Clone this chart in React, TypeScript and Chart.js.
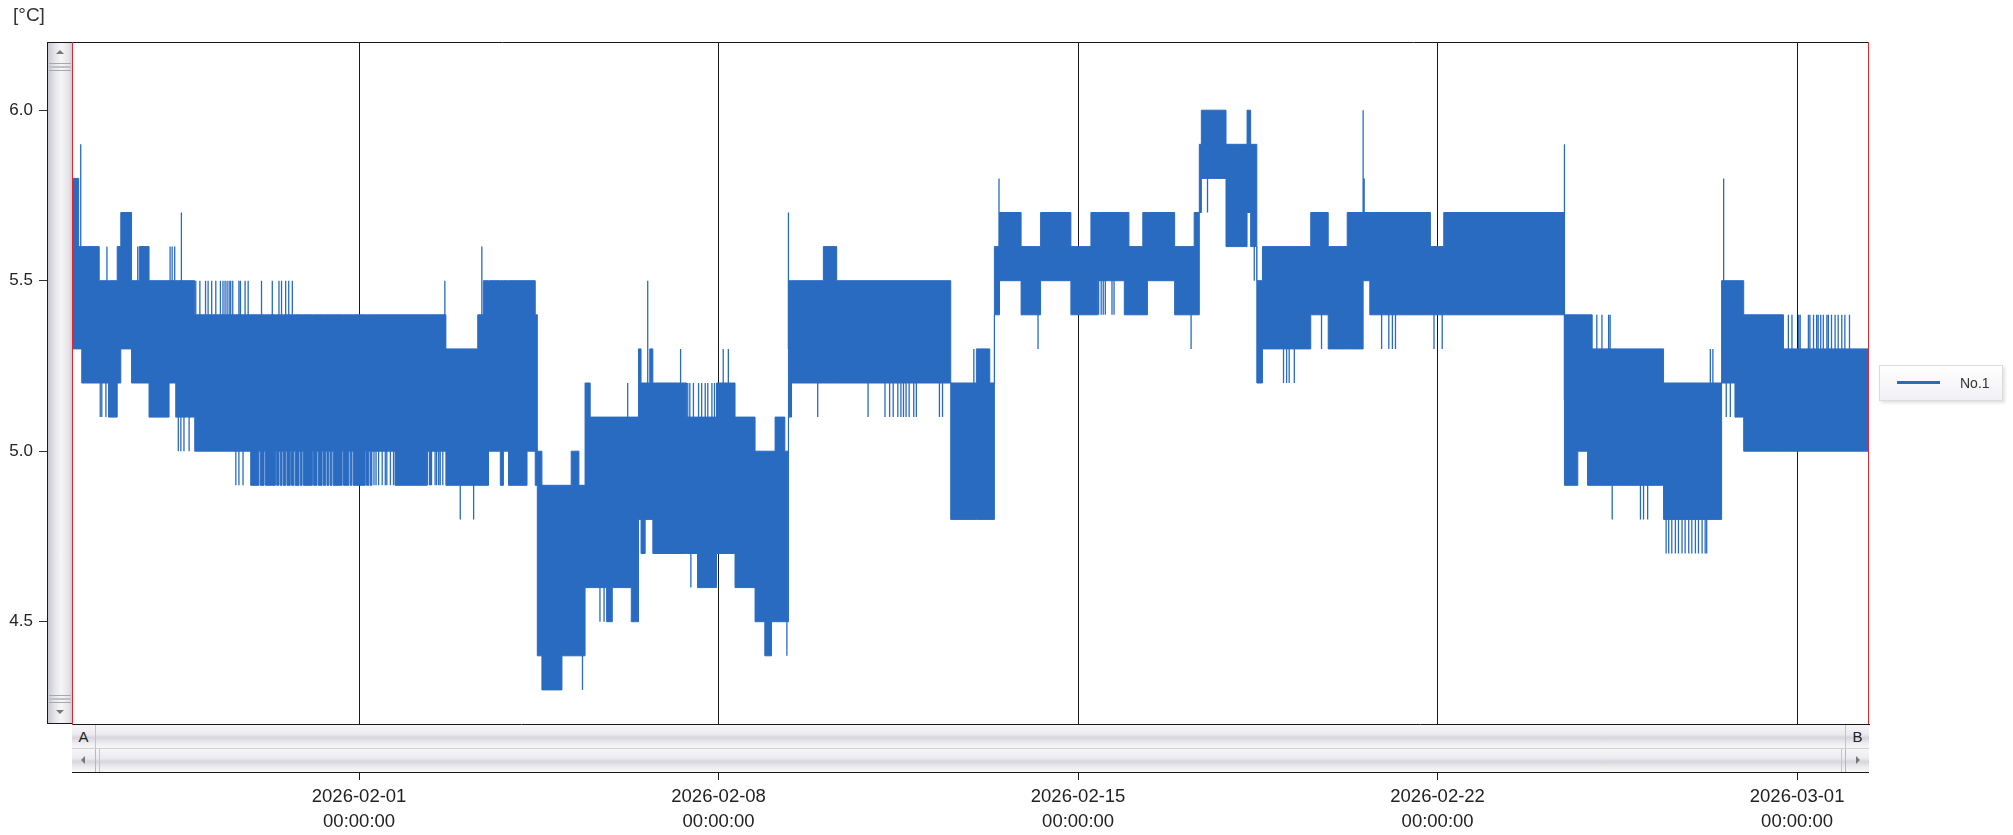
import React, { useEffect, useRef } from 'react';
import { Chart, registerables } from 'chart.js';

Chart.register(...registerables);

// x values are days counted from 2026-01-26 00:00:00
const xMin = 0.41;
const xMax = 35.4;
const seriesName = 'No.1';
const unitLabel = '[°C]';

// core band of the readings: each segment starts at segStart[i] and holds until the next one
const segStart = [0.41, 0.54, 0.60, 0.94, 1.12, 1.29, 1.36, 1.57, 1.72, 1.91, 2.30, 2.43, 2.80, 3.89,
  4.05, 4.075, 4.15, 4.175, 4.37, 4.395, 4.44, 4.465, 4.50, 4.525, 4.57, 4.595, 4.66, 4.685, 4.73, 4.755, 4.83, 4.855, 4.89, 4.915,
  5.09, 5.115, 5.18, 5.205, 5.28, 5.305, 5.35, 5.375, 5.41, 5.435, 5.47, 5.495, 5.67, 5.695, 5.80, 5.825, 5.86, 5.885, 6.12, 6.145, 6.19, 6.215,
  6.25, 6.70, 7.32,
  7.69, 8.31, 8.42, 8.52, 8.75, 8.81, 8.91, 9.27, 9.43, 9.47, 9.56, 9.95, 10.13, 10.28, 10.40, 10.50, 10.82, 10.93, 11.30, 11.44, 11.49, 11.57, 11.66, 11.72, 12.38, 12.59, 12.96, 13.32, 13.71, 13.90, 14.03, 14.10, 14.29, 14.36, 14.42, 15.04, 15.30, 17.52, 18.02, 18.28, 18.37, 18.47, 18.89, 19.27, 19.86, 20.25, 20.38, 20.90, 20.99, 21.26, 21.35, 21.88, 22.26, 22.36, 22.40, 22.88, 23.29, 23.36, 23.48, 23.59, 24.53, 24.87, 25.24, 25.55, 25.68, 26.86, 27.12, 29.47, 29.73, 29.92, 30.01, 31.40, 32.53, 32.79, 32.96, 33.73];
const segLo = [5.3, 5.3, 5.2, 5.2, 5.1, 5.2, 5.3, 5.2, 5.2, 5.1, 5.2, 5.1, 5.0, 4.9,
  5.0, 4.9, 5.0, 4.9, 5.0, 4.9, 5.0, 4.9, 5.0, 4.9, 5.0, 4.9, 5.0, 4.9, 5.0, 4.9, 5.0, 4.9, 5.0, 4.9,
  5.0, 4.9, 5.0, 4.9, 5.0, 4.9, 5.0, 4.9, 5.0, 4.9, 5.0, 4.9, 5.0, 4.9, 5.0, 4.9, 5.0, 4.9, 5.0, 4.9, 5.0, 4.9,
  5.0, 4.9, 5.0,
  4.9, 4.9, 4.9, 5.0, 4.9, 5.0, 4.9, 5.0, 4.9, 4.4, 4.3, 4.4, 4.4, 4.4, 4.6, 4.6, 4.5, 4.6, 4.5, 4.8, 4.7, 4.8, 4.8, 4.7, 4.7, 4.6, 4.7, 4.6, 4.5, 4.4, 4.5, 4.5, 4.5, 5.1, 5.2, 5.2, 5.2, 4.8, 4.8, 4.8, 5.4, 5.5, 5.4, 5.5, 5.4, 5.4, 5.5, 5.4, 5.4, 5.4, 5.5, 5.4, 5.4, 5.7, 5.8, 5.6, 5.7, 5.6, 5.2, 5.3, 5.4, 5.3, 5.3, 5.5, 5.4, 5.4, 5.4, 4.9, 5.0, 4.9, 4.9, 4.8, 5.2, 5.1, 5.0, 5.0];
const segHi = [5.8, 5.6, 5.6, 5.5, 5.5, 5.6, 5.7, 5.5, 5.6, 5.5, 5.5, 5.5, 5.4, 5.4,
  5.4, 5.4, 5.4, 5.4, 5.4, 5.4, 5.4, 5.4, 5.4, 5.4, 5.4, 5.4, 5.4, 5.4, 5.4, 5.4, 5.4, 5.4, 5.4, 5.4,
  5.4, 5.4, 5.4, 5.4, 5.4, 5.4, 5.4, 5.4, 5.4, 5.4, 5.4, 5.4, 5.4, 5.4, 5.4, 5.4, 5.4, 5.4, 5.4, 5.4, 5.4, 5.4,
  5.4, 5.4, 5.4,
  5.3, 5.4, 5.5, 5.5, 5.5, 5.5, 5.5, 5.5, 5.4, 5.0, 4.9, 4.9, 5.0, 4.9, 5.2, 5.1, 5.1, 5.1, 5.1, 5.3, 5.2, 5.2, 5.3, 5.2, 5.1, 5.1, 5.2, 5.1, 5.0, 5.0, 5.0, 5.1, 5.0, 5.5, 5.5, 5.6, 5.5, 5.2, 5.3, 5.2, 5.6, 5.7, 5.6, 5.7, 5.6, 5.7, 5.7, 5.7, 5.6, 5.7, 5.7, 5.6, 5.7, 5.9, 6.0, 5.9, 6.0, 5.9, 5.5, 5.6, 5.7, 5.6, 5.7, 5.7, 5.7, 5.6, 5.7, 5.4, 5.4, 5.4, 5.3, 5.2, 5.5, 5.5, 5.4, 5.3];

// single readings that stick out of the band
const spikeT = [0.58, 0.96, 0.99, 1.07, 1.09, 1.69, 2.32, 2.36, 2.41, 2.48, 2.53, 2.54, 2.59, 2.69,
  2.82, 2.90, 3.01, 3.06, 3.13, 3.21, 3.30, 3.35, 3.39, 3.43, 3.47, 3.50, 3.54, 3.66, 3.69, 3.78, 3.84, 4.10, 4.31, 4.44, 4.49, 4.57, 4.63, 4.70,
  3.60, 3.66, 3.74,
  6.29, 6.33, 6.38, 6.45, 6.51, 6.54, 6.61, 6.67, 7.33, 7.37, 7.39, 7.41, 7.48, 7.51, 7.55, 7.58, 7.63,
  7.67, 7.97, 8.23, 8.39, 10.35, 10.69, 10.77, 11.23, 11.62,
  12.26, 12.46, 12.40, 12.44, 12.51, 12.61, 12.67, 12.74, 12.79, 12.87, 12.92, 13.09, 13.19, 14.33, 14.36, 14.93,
  15.91, 16.24, 16.33, 16.40, 16.49, 16.55, 16.60, 16.65, 16.71, 16.80, 16.85, 17.30, 17.36,
  17.97, 18.46, 19.22, 20.40, 20.45, 20.49, 20.53, 20.66, 20.70, 22.20, 22.52, 23.43,
  24.00, 24.06, 24.11, 24.21, 24.74, 25.55, 25.57, 25.91, 26.05, 26.12, 26.18, 26.93, 27.09, 29.47,
  30.10, 30.20, 30.33, 30.36, 30.40, 30.95, 31.01, 31.09,
  31.45, 31.50, 31.56, 31.63, 31.69, 31.76, 31.82, 31.89, 31.95, 32.02, 32.08, 32.15, 32.21, 32.24,
  32.31, 32.36, 32.57, 32.62, 32.70,
  33.73, 33.83, 33.90, 34.03, 34.06, 34.22, 34.25, 34.32, 34.38, 34.41, 34.46, 34.51, 34.58, 34.61, 34.67, 34.74, 34.80, 34.87, 34.93, 35.02];
const spikeV = [5.9, 5.1, 5.1, 5.1, 5.6, 5.6, 5.6, 5.6, 5.6, 5.0, 5.0, 5.7, 5.0, 5.0,
  5.5, 5.5, 5.5, 5.5, 5.5, 5.5, 5.5, 5.5, 5.5, 5.5, 5.5, 5.5, 5.5, 5.5, 5.5, 5.5, 5.5, 5.5, 5.5, 5.5, 5.5, 5.5, 5.5, 5.5,
  4.9, 4.9, 4.9,
  4.9, 4.9, 4.9, 4.9, 4.9, 4.9, 4.9, 4.9, 4.9, 4.9, 4.9, 4.9, 4.9, 4.9, 4.9, 4.9, 4.9,
  5.5, 4.8, 4.8, 5.6, 4.3, 4.5, 4.5, 5.2, 5.5,
  5.3, 4.6, 5.2, 5.2, 5.2, 5.2, 5.2, 5.2, 5.2, 5.2, 5.2, 5.3, 5.3, 4.4, 5.7, 5.1,
  5.1, 5.1, 5.1, 5.1, 5.1, 5.1, 5.1, 5.1, 5.1, 5.1, 5.1, 5.1, 5.1,
  5.3, 5.8, 5.3, 5.4, 5.4, 5.4, 5.4, 5.4, 5.4, 5.3, 5.7, 5.5,
  5.2, 5.2, 5.2, 5.2, 5.3, 6.0, 5.8, 5.3, 5.3, 5.3, 5.3, 5.3, 5.3, 5.9,
  5.4, 5.4, 5.4, 5.4, 4.8, 4.8, 4.8, 4.8,
  4.7, 4.7, 4.7, 4.7, 4.7, 4.7, 4.7, 4.7, 4.7, 4.7, 4.7, 4.7, 4.7, 4.7,
  5.3, 5.3, 5.8, 5.1, 5.1,
  5.4, 5.4, 5.4, 5.4, 5.4, 5.4, 5.4, 5.4, 5.4, 5.4, 5.4, 5.4, 5.4, 5.4, 5.4, 5.4, 5.4, 5.4, 5.4, 5.4];

const tickDays = [6, 13, 20, 27, 34];
const tickDates = ['2026-02-01', '2026-02-08', '2026-02-15', '2026-02-22', '2026-03-01'];
const tickTimes = ['00:00:00', '00:00:00', '00:00:00', '00:00:00', '00:00:00'];
const yMin = 4.2;
const yMax = 6.2;
const yTicks = [4.5, 5.0, 5.5, 6.0];

const BLUE = '#2a6bc2';
const FONT = '"Liberation Sans", Arial, sans-serif';

function tri(dir: 'up' | 'down' | 'left' | 'right', size: number, color: string): React.CSSProperties {
  const s: React.CSSProperties = { width: 0, height: 0, position: 'absolute' };
  const t = 'transparent';
  if (dir === 'up') Object.assign(s, { borderLeft: `${size}px solid ${t}`, borderRight: `${size}px solid ${t}`, borderBottom: `${size}px solid ${color}` });
  if (dir === 'down') Object.assign(s, { borderLeft: `${size}px solid ${t}`, borderRight: `${size}px solid ${t}`, borderTop: `${size}px solid ${color}` });
  if (dir === 'left') Object.assign(s, { borderTop: `${size}px solid ${t}`, borderBottom: `${size}px solid ${t}`, borderRight: `${size}px solid ${color}` });
  if (dir === 'right') Object.assign(s, { borderTop: `${size}px solid ${t}`, borderBottom: `${size}px solid ${t}`, borderLeft: `${size}px solid ${color}` });
  return s;
}

export default function App() {
  const ref = useRef<HTMLCanvasElement>(null);

  useEffect(() => {
    const canvas = ref.current;
    if (!canvas) return;
    const n = segStart.length;
    const hiPts: any[] = segStart.map((t, i) => ({ x: t, y: segHi[i] }));
    hiPts.push({ x: xMax, y: segHi[n - 1] });
    const loPts: any[] = segStart.map((t, i) => ({ x: t, y: segLo[i] }));
    loPts.push({ x: xMax, y: segLo[n - 1] });
    const bandMid = (t: number) => {
      let k = 0;
      for (let i = 0; i < n; i++) if (segStart[i] <= t) k = i;
      return (segLo[k] + segHi[k]) / 2;
    };
    const spikePts: any[] = [];
    spikeT.forEach((t, i) => {
      spikePts.push({ x: t, y: bandMid(t) }, { x: t, y: spikeV[i] }, { x: t, y: null });
    });

    const frame = {
      id: 'frame',
      afterDatasetsDraw(chart: any) {
        const { ctx, chartArea: a } = chart;
        ctx.save();
        ctx.lineWidth = 1;
        ctx.strokeStyle = '#1a1a1a';
        ctx.beginPath();
        ctx.moveTo(47, a.top + 0.5);
        ctx.lineTo(a.right, a.top + 0.5);
        ctx.stroke();
        ctx.strokeStyle = '#e2252e';
        ctx.beginPath();
        ctx.moveTo(a.left + 0.5, a.top);
        ctx.lineTo(a.left + 0.5, a.bottom);
        ctx.moveTo(a.right - 0.5, a.top);
        ctx.lineTo(a.right - 0.5, a.bottom);
        ctx.stroke();
        ctx.restore();
      },
    };

    const chart = new Chart(canvas, {
      type: 'line',
      data: {
        datasets: [
          {
            label: seriesName,
            data: hiPts,
            stepped: true,
            borderColor: BLUE,
            backgroundColor: BLUE,
            borderWidth: 1,
            pointRadius: 0,
            fill: '+1',
          },
          {
            label: seriesName + ' low',
            data: loPts,
            stepped: true,
            borderColor: BLUE,
            borderWidth: 1,
            pointRadius: 0,
            fill: false,
          },
          {
            label: seriesName + ' spikes',
            data: spikePts,
            borderColor: BLUE,
            borderWidth: 1.3,
            pointRadius: 0,
            fill: false,
            spanGaps: false,
          },
        ],
      } as any,
      options: {
        animation: false,
        responsive: false,
        maintainAspectRatio: false,
        layout: { padding: { top: 42, right: 144, left: 0, bottom: 0 } },
        plugins: { legend: { display: false }, tooltip: { enabled: false } },
        scales: {
          x: {
            type: 'linear',
            min: xMin,
            max: xMax,
            afterBuildTicks: (s: any) => {
              s.ticks = tickDays.map((v) => ({ value: v }));
            },
            afterFit: (s: any) => {
              s.height = 111;
            },
            ticks: {
              autoSkip: false,
              maxRotation: 0,
              padding: 4,
              color: '#222',
              font: { family: FONT, size: 18.5, lineHeight: 1.36 },
              callback: (_v: any, i: number) => [tickDates[i], tickTimes[i]],
            },
            grid: { color: '#1a1a1a', lineWidth: 1, tickLength: 56, drawOnChartArea: true, drawTicks: true },
            border: { color: '#1a1a1a', width: 1 },
          },
          y: {
            type: 'linear',
            min: yMin,
            max: yMax,
            afterBuildTicks: (s: any) => {
              s.ticks = yTicks.map((v) => ({ value: v }));
            },
            afterFit: (s: any) => {
              s.width = 72;
            },
            ticks: {
              padding: 6,
              color: '#222',
              font: { family: FONT, size: 17 },
              callback: (v: any) => Number(v).toFixed(1),
            },
            grid: { drawOnChartArea: false, drawTicks: true, tickLength: 33, color: '#333' },
            border: { color: '#e2252e', width: 1 },
          },
        },
      } as any,
      plugins: [frame],
    });
    return () => chart.destroy();
  }, []);

  const barV = 'linear-gradient(to right, #c8c8d0 0%, #e6e6eb 30%, #f6f6f8 55%, #e4e4e9 85%, #cdcdd4 100%)';
  const barH = 'linear-gradient(to bottom, #f6f6f8 0%, #ececf0 40%, #d6d6dd 55%, #eeeef1 80%, #f7f7f9 100%)';

  return (
    <div style={{ position: 'absolute', left: 0, top: 0, width: 2013, height: 835, background: '#fff', overflow: 'hidden' }}>
      <canvas ref={ref} width={2013} height={835} style={{ position: 'absolute', left: 0, top: 0 }} />

      <div style={{ position: 'absolute', left: 13, top: 4, font: `19px ${FONT}`, color: '#333', lineHeight: '22px' }}>{unitLabel}</div>

      {/* vertical scroll bar */}
      <div style={{ position: 'absolute', left: 47, top: 42, width: 24, height: 680, borderLeft: '1px solid #1a1a1a', borderTop: '1px solid #1a1a1a', borderBottom: '1px solid #1a1a1a', background: barV }}>
        <div style={{ ...tri('up', 4, '#777'), left: 8, top: 7 }} />
        <div style={{ position: 'absolute', left: 1, right: 1, top: 20, height: 1, background: '#a8a8b0' }} />
        <div style={{ position: 'absolute', left: 1, right: 1, top: 23, height: 2, background: '#c0c0c8' }} />
        <div style={{ position: 'absolute', left: 1, right: 1, top: 27, height: 1, background: '#a8a8b0' }} />
        <div style={{ position: 'absolute', left: 1, right: 1, top: 652, height: 1, background: '#a8a8b0' }} />
        <div style={{ position: 'absolute', left: 1, right: 1, top: 655, height: 2, background: '#c0c0c8' }} />
        <div style={{ position: 'absolute', left: 1, right: 1, top: 659, height: 1, background: '#a8a8b0' }} />
        <div style={{ ...tri('down', 4, '#777'), left: 8, top: 667 }} />
      </div>

      {/* horizontal scroll bar */}
      <div style={{ position: 'absolute', left: 72, top: 725, width: 1797, height: 47, borderBottom: '1px solid #1a1a1a', background: '#eee' }}>
        <div style={{ position: 'absolute', left: 0, top: 0, width: 1797, height: 23, background: barH, borderBottom: '1px solid #d0d0d6' }}>
          <div style={{ position: 'absolute', left: 0, top: 0, width: 23, height: 23, borderRight: '1px solid #c4c4cc', font: `15px ${FONT}`, color: '#222', textAlign: 'center', lineHeight: '23px' }}>A</div>
          <div style={{ position: 'absolute', right: 0, top: 0, width: 23, height: 23, borderLeft: '1px solid #c4c4cc', font: `15px ${FONT}`, color: '#222', textAlign: 'center', lineHeight: '23px' }}>B</div>
        </div>
        <div style={{ position: 'absolute', left: 0, top: 24, width: 1797, height: 23, background: barH }}>
          <div style={{ position: 'absolute', left: 0, top: 0, width: 23, height: 23, borderRight: '1px solid #b8b8c0' }}>
            <div style={{ ...tri('left', 4, '#777'), left: 9, top: 7 }} />
          </div>
          <div style={{ position: 'absolute', left: 27, top: 0, width: 1, height: 23, background: '#c4c4cc' }} />
          <div style={{ position: 'absolute', right: 27, top: 0, width: 1, height: 23, background: '#c4c4cc' }} />
          <div style={{ position: 'absolute', right: 0, top: 0, width: 23, height: 23, borderLeft: '1px solid #b8b8c0' }}>
            <div style={{ ...tri('right', 4, '#777'), left: 10, top: 7 }} />
          </div>
        </div>
      </div>

      {/* legend */}
      <div style={{ position: 'absolute', left: 1879, top: 365, width: 122, height: 34, border: '1px solid #dcdcdc', background: 'linear-gradient(#ffffff, #f1f1f5)', boxShadow: '2px 2px 3px rgba(0,0,0,0.12)' }}>
        <div style={{ position: 'absolute', left: 17, top: 15, width: 43, height: 3, background: BLUE }} />
        <div style={{ position: 'absolute', left: 80, top: 8, font: `14px ${FONT}`, color: '#333', lineHeight: '18px' }}>{seriesName}</div>
      </div>
    </div>
  );
}
